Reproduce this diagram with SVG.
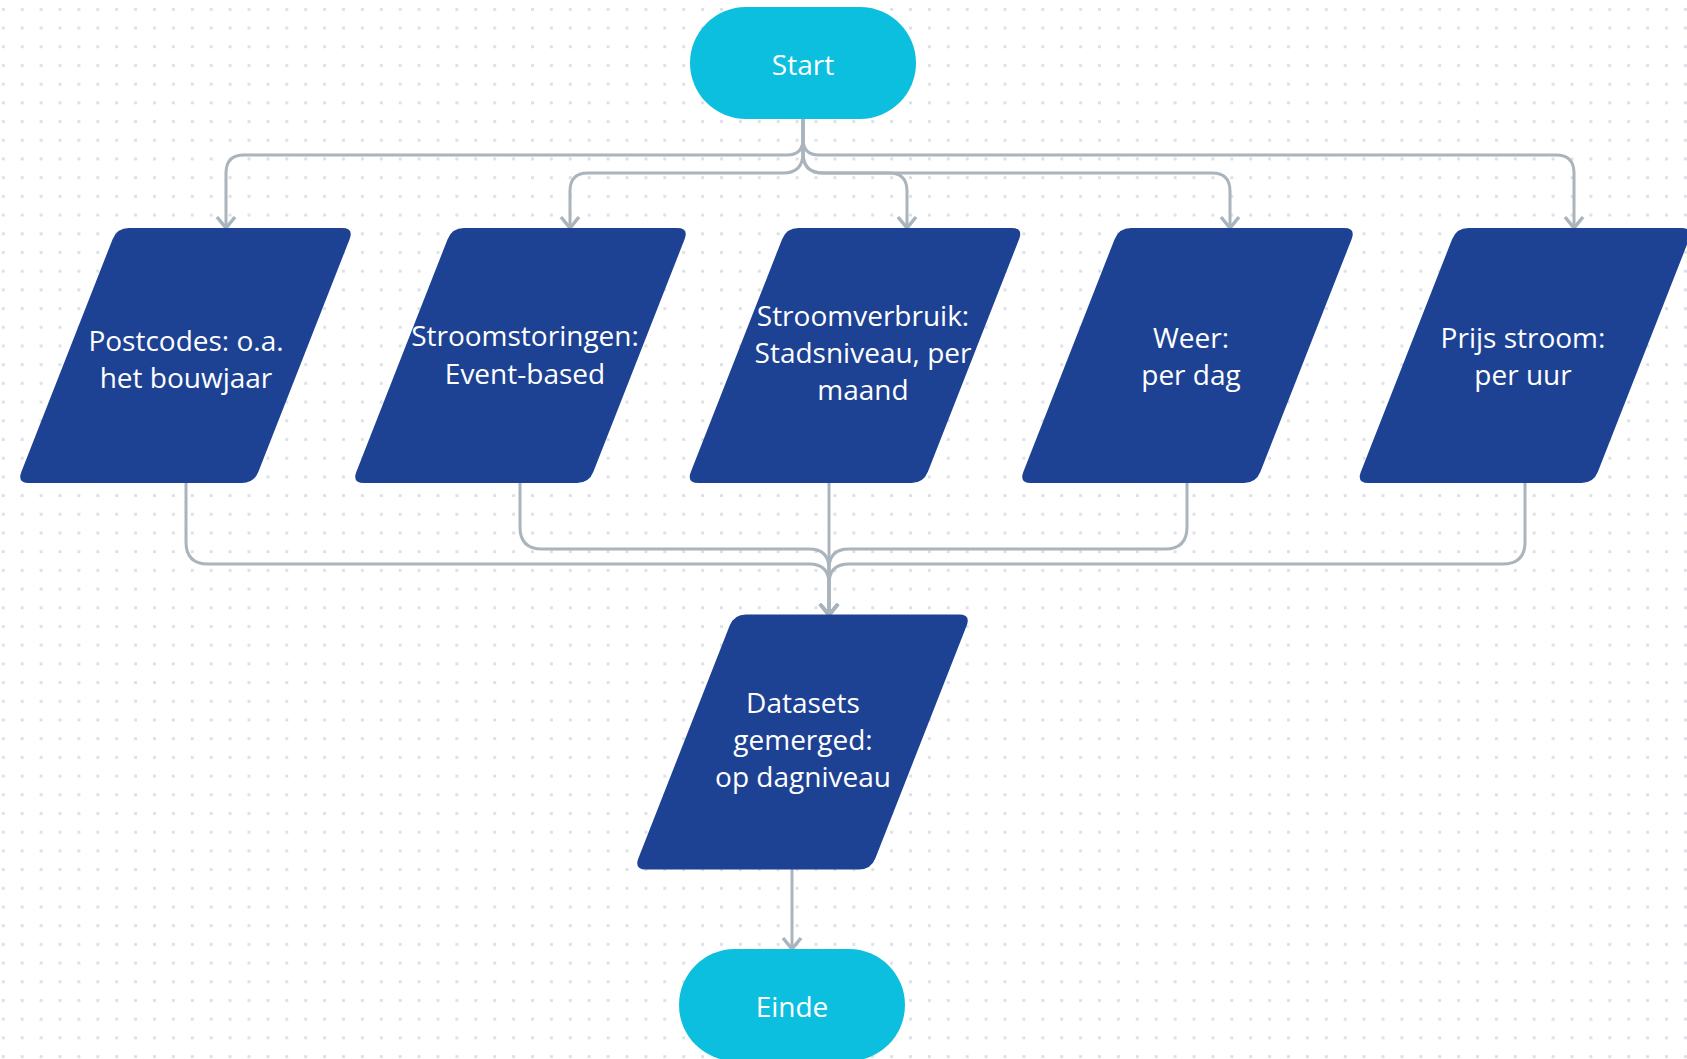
<svg xmlns="http://www.w3.org/2000/svg" width="1687" height="1059" viewBox="0 0 1687 1059">
<style>
.term{fill:#0dbfdf;}
.io{fill:#1d4294;}
.lbl{font-family:"Open Sans","Liberation Sans",sans-serif;font-size:28px;fill:#ffffff;text-anchor:middle;}
.conn{fill:none;stroke:#a9b4bd;stroke-width:3;marker-end:url(#arr);}
</style>
<defs>
<pattern id="dots" patternUnits="userSpaceOnUse" x="-6.15" y="-0.05" width="18.9" height="18.7">
<rect x="8" y="8" width="2.9" height="2.9" fill="#dcdfe6"/>
</pattern>
<marker id="arr" markerUnits="userSpaceOnUse" orient="auto" refX="0" refY="0" markerWidth="30" markerHeight="30" viewBox="-15 -15 30 30" overflow="visible">
<path d="M -11 -9 L 0 0 L -11 9" fill="none" stroke="#a9b4bd" stroke-width="3.5"/>
</marker>
<path id="para" d="M -56.5 -127.5 L 156.5 -127.5 Q 168.5 -127.5 164.1 -116.3 L 72.9 116.3 Q 68.5 127.5 56.5 127.5 L -156.5 127.5 Q -168.5 127.5 -164.1 116.3 L -72.9 -116.3 Q -68.5 -127.5 -56.5 -127.5 Z"/>
</defs>
<rect width="1687" height="1059" fill="#ffffff"/>
<rect width="1687" height="1059" fill="url(#dots)"/>

<g id="connectors">
<path class="conn" d="M 803 119 L 803 139 Q 803 155 787 155 L 244 155 Q 226 155 226 173 L 226 228"/>
<path class="conn" d="M 803 119 L 803 153 Q 803 173 783 173 L 588 173 Q 570 173 570 191 L 570 228"/>
<path class="conn" d="M 803 119 L 803 153 Q 803 173 823 173 L 889 173 Q 907 173 907 191 L 907 228"/>
<path class="conn" d="M 803 119 L 803 153 Q 803 173 823 173 L 1212 173 Q 1230 173 1230 191 L 1230 228"/>
<path class="conn" d="M 803 119 L 803 139 Q 803 155 819 155 L 1556 155 Q 1574 155 1574 173 L 1574 228"/>
<path class="conn" d="M 186 483 L 186 542 Q 186 564 208 564 L 809 564 Q 829 564 829 584 L 829 615"/>
<path class="conn" d="M 520 483 L 520 527 Q 520 549 542 549 L 809 549 Q 829 549 829 569 L 829 615"/>
<path class="conn" d="M 829 483 L 829 615"/>
<path class="conn" d="M 1187 483 L 1187 527 Q 1187 549 1165 549 L 849 549 Q 829 549 829 569 L 829 615"/>
<path class="conn" d="M 1525 483 L 1525 542 Q 1525 564 1503 564 L 849 564 Q 829 564 829 584 L 829 615"/>
<path class="conn" d="M 792 869 L 792 949"/>
</g>

<g id="start">
<rect class="term" x="690" y="7" width="226" height="112" rx="56"/>
<text class="lbl" x="803" y="75">Start</text>
</g>

<g id="postcodes">
<use href="#para" class="io" transform="translate(185.5 355.5)"/>
<text class="lbl" x="186" y="351">Postcodes: o.a.</text>
<text class="lbl" x="186" y="388">het bouwjaar</text>
</g>

<g id="stroomstoringen">
<use href="#para" class="io" transform="translate(520.5 355.5)"/>
<text class="lbl" x="525" y="346">Stroomstoringen:</text>
<text class="lbl" x="525" y="384">Event-based</text>
</g>

<g id="stroomverbruik">
<use href="#para" class="io" transform="translate(855 355.5)"/>
<text class="lbl" x="863" y="326">Stroomverbruik:</text>
<text class="lbl" x="863" y="363">Stadsniveau, per</text>
<text class="lbl" x="863" y="400">maand</text>
</g>

<g id="weer">
<use href="#para" class="io" transform="translate(1187.5 355.5)"/>
<text class="lbl" x="1191" y="348">Weer:</text>
<text class="lbl" x="1191" y="385">per dag</text>
</g>

<g id="prijs">
<use href="#para" class="io" transform="translate(1525 355.5)"/>
<text class="lbl" x="1523" y="348">Prijs stroom:</text>
<text class="lbl" x="1523" y="385">per uur</text>
</g>

<g id="datasets">
<use href="#para" class="io" transform="translate(802.5 742)"/>
<text class="lbl" x="803" y="713">Datasets</text>
<text class="lbl" x="803" y="750">gemerged:</text>
<text class="lbl" x="803" y="787">op dagniveau</text>
</g>

<g id="einde">
<rect class="term" x="679" y="949" width="226" height="112" rx="56"/>
<text class="lbl" x="792" y="1017">Einde</text>
</g>
</svg>
